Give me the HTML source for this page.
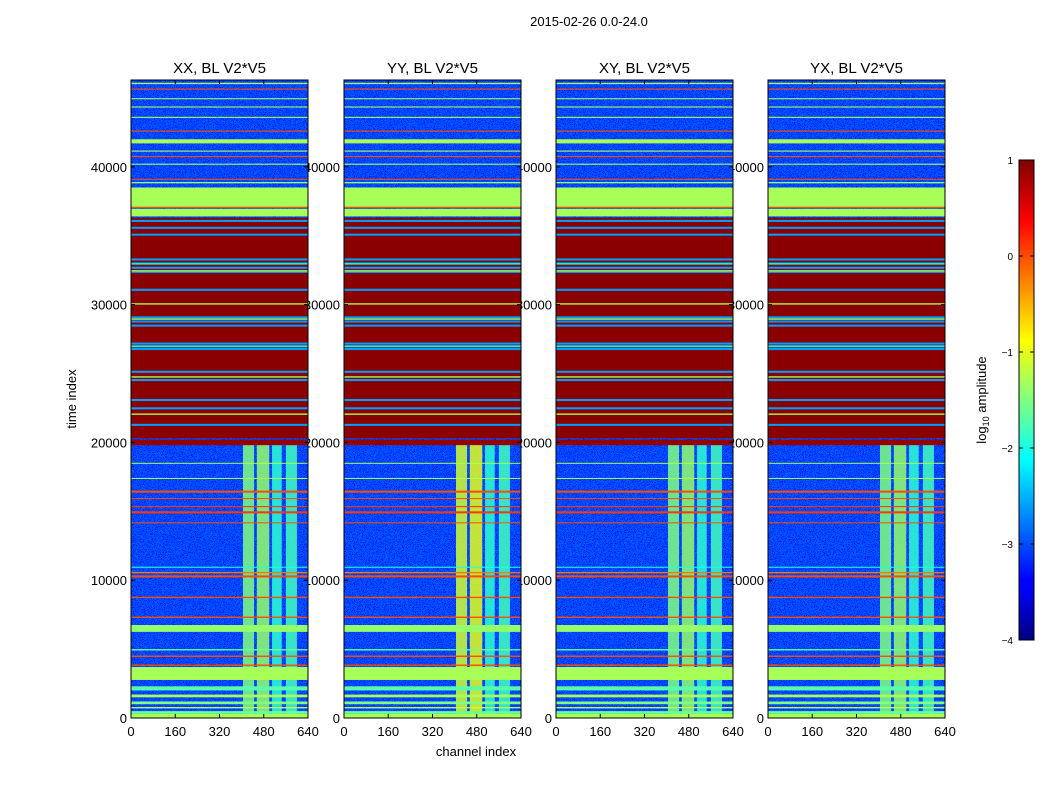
<!DOCTYPE html>
<html><head><meta charset="utf-8"><style>
body{margin:0;background:#fff;}
svg{display:block;font-family:"Liberation Sans",sans-serif;}
</style></head><body>
<svg id="chart" width="1050" height="800" viewBox="0 0 1050 800">
<defs>
<filter id="noise" x="0" y="0" width="1" height="1">
<feTurbulence type="fractalNoise" baseFrequency="0.9 1.4" numOctaves="2" seed="3" result="t"/>
<feColorMatrix type="matrix" values="0 0 0 0 0  0 0 0 2.2 -0.9  0 0 0 0 1  0 0 0 -3 1.9" />
</filter>
<linearGradient id="jet" x1="0" y1="1" x2="0" y2="0">
<stop offset="0" stop-color="#000080"/><stop offset="0.11" stop-color="#0000ff"/>
<stop offset="0.125" stop-color="#0000ff"/><stop offset="0.375" stop-color="#00ffff"/>
<stop offset="0.5" stop-color="#80ff80"/><stop offset="0.625" stop-color="#ffff00"/>
<stop offset="0.875" stop-color="#ff0000"/><stop offset="1" stop-color="#800000"/>
</linearGradient>
</defs>
<text x="589" y="26" font-size="13" text-anchor="middle">2015-02-26 0.0-24.0</text>
<g id="panels"></g>
<g id="cbar"></g>
</svg>
<script>
const panelTitles = ["XX, BL V2*V5","YY, BL V2*V5","XY, BL V2*V5","YX, BL V2*V5"];
const yTicks = [0,10000,20000,30000,40000];
const xTicks = [0,160,320,480,640];
const cbarTicks = [1,0,-1,-2,-3,-4];
const backgroundValue = -3.0;
// horizontal bands: time start, time end, log10 amplitude (drawn in order)
const bandStart = [0,300,700,1000,1500,2000,2760,3780,4430,4900,6250,7260,8700,10200,10500,10900,14150,14850,15300,15900,16350,17350,18450,19800,20300,
  21200,22000,22400,23000,24450,24700,25050,26700,26900,27100,28400,28700,28900,29000,30000,31000,32300,32400,32600,32900,33200,35000,35500,36000,
  36400,37000,37100,38800,39050,40150,40700,41100,41700,42550,43550,44300,44900,45600,46000];
const bandEnd   = [300,500,800,1200,1700,2300,3700,3880,4530,5000,6750,7360,8800,10350,10600,10980,14200,15000,15380,15960,16500,17420,18520,20200,36300,
  21350,22100,22550,23150,24600,24800,25200,26850,27050,27250,28550,28850,29000,29150,30100,31150,32450,32500,32750,33050,33350,35150,35650,36150,
  36950,37100,38500,38900,39130,40230,40780,41180,42000,42630,43630,44380,44980,45680,46100];
const bandValue = [-1.3,-1.6,-1.2,-1.5,-1.3,-1.7,-1.3,0.0,0.0,-1.6,-1.4,0.0,0.0,0.0,-0.2,-2.0,0.0,0.1,0.1,0.0,0.0,-1.3,-1.3,0.9,0.95,
  -2.6,-1.3,-2.6,-2.6,-2.6,-1.3,-2.6,-2.6,-2.2,-2.6,-2.6,-2.6,-1.3,-2.6,-1.3,-2.6,-2.6,-1.3,-2.6,-2.2,-2.6,-2.6,-2.6,-2.6,
  -1.3,0.0,-1.3,-1.4,0.0,-1.3,0.0,-1.3,-1.3,0.0,-1.3,-1.3,-1.3,0.0,-1.3];
// bright channel columns (RFI region) for lower time range
const colStart = [405,455,510,560];
const colEnd   = [445,500,545,600];
const colValue = [-1.5,-1.4,-1.9,-1.8];
const colTimeEnd = 20000;

const NS='http://www.w3.org/2000/svg';
const pxL=[131,344,556,768], pW=177, pTop=80, pBot=718, tMax=46300, chMax=640;
function jet(v){const x=Math.max(0,Math.min(1,(v+4)/5));const c=a=>Math.round(255*Math.max(0,Math.min(1,1.5-Math.abs(4*x-a))));return `rgb(${c(3)},${c(2)},${c(1)})`;}
function yS(t){return pBot-(t/tMax)*(pBot-pTop);}
function mk(tag,attrs,parent){const e=document.createElementNS(NS,tag);for(const k in attrs)e.setAttribute(k,attrs[k]);parent.appendChild(e);return e;}
const root=document.getElementById('panels');
pxL.forEach((x0,p)=>{yTicks.forEach(t=>{const tx=mk('text',{x:x0-4,y:yS(t)+5,'font-size':13,'text-anchor':'end'},root);tx.textContent=t;

});});
pxL.forEach((x0,p)=>{
  const xS=c=>x0+c/chMax*pW;
  const g=mk('g',{},root);
  
  
  const cp='clip'+p; const cl=mk('clipPath',{id:cp},g); mk('rect',{x:x0,y:pTop,width:pW,height:pBot-pTop},cl);
  const img=mk('g',{'clip-path':`url(#${cp})`},g);
  mk('rect',{x:x0,y:pTop,width:pW,height:pBot-pTop,fill:jet(backgroundValue)},img);
  mk('rect',{x:x0,y:pTop,width:pW,height:pBot-pTop,filter:'url(#noise)'},img);
  colStart.forEach((c,i)=>{const r=mk('rect',{x:xS(c),y:yS(colTimeEnd),width:xS(colEnd[i])-xS(c),height:yS(0)-yS(colTimeEnd),fill:jet(colValue[i]+(p===1&&i<2?0.4:0)),opacity:0.85},img);
    
    });
  bandStart.forEach((s,i)=>{const y1=yS(bandEnd[i]),y0=yS(s);const r=mk('rect',{x:x0,y:y1,width:pW,height:Math.max(1,y0-y1),fill:jet(bandValue[i])},img);
    
    });
  mk('rect',{x:x0,y:pTop,width:pW,height:pBot-pTop,fill:'none',stroke:'#000','stroke-width':1},g);
  yTicks.forEach(t=>{mk('line',{x1:x0,x2:x0+4,y1:yS(t),y2:yS(t),stroke:'#000'},g);mk('line',{x1:x0+pW,x2:x0+pW-4,y1:yS(t),y2:yS(t),stroke:'#000'},g);});
  xTicks.forEach(c=>{mk('line',{x1:xS(c),x2:xS(c),y1:pBot,y2:pBot-4,stroke:'#000'},g);mk('line',{x1:xS(c),x2:xS(c),y1:pTop,y2:pTop+4,stroke:'#000'},g);
    const tx=mk('text',{x:xS(c),y:pBot+18,'font-size':13,'text-anchor':'middle'},g);tx.textContent=c;
    
    });
  const ti=mk('text',{x:x0+pW/2,y:pTop-7,'font-size':15,'text-anchor':'middle'},g);ti.textContent=panelTitles[p];
  
  
});
const xl=mk('text',{x:476,y:756,'font-size':13,'text-anchor':'middle'},root);xl.textContent='channel index';


const yl=mk('text',{x:76,y:399,'font-size':13,'text-anchor':'middle',transform:'rotate(-90 76 399)'},root);yl.textContent='time index';


const cb=document.getElementById('cbar');


const cbY=v=>160+(1-v)/5*480;
mk('rect',{x:1019,y:160,width:15,height:480,fill:'url(#jet)',stroke:'#000'},cb);
cbarTicks.forEach(v=>{mk('line',{x1:1019,x2:1023,y1:cbY(v),y2:cbY(v),stroke:'#000'},cb);mk('line',{x1:1034,x2:1030,y1:cbY(v),y2:cbY(v),stroke:'#000'},cb);
  const t=mk('text',{x:1013,y:cbY(v)+4,'font-size':10,'text-anchor':'end'},cb);t.textContent=v<0?'\u2212'+(-v):String(v);
  
  });
const cl=mk('text',{x:986,y:400,'font-size':13,'text-anchor':'middle',transform:'rotate(-90 986 400)'},cb);
cl.innerHTML='log<tspan font-size="9" dy="3">10</tspan><tspan dy="-3"> amplitude</tspan>';


</script>
</body></html>
